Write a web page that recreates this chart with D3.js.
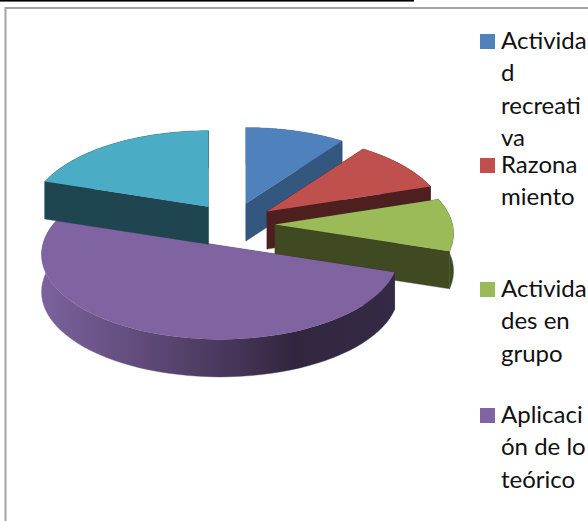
<!DOCTYPE html>
<html><head><meta charset="utf-8">
<script src="https://cdn.jsdelivr.net/npm/d3@7/dist/d3.min.js"></script>
<style>html,body{margin:0;padding:0;background:#fff;overflow:hidden}svg{display:block}</style>
</head><body><div id="chart"></div>
<script>
// The fifth (teal) slice has no legend entry in the reference, so it has no label here either.
const values = [10,10,10,50,20];
const topColors = ["#4f81bd","#c0504d","#9bbb59","#8064a2","#4bacc6"];
const sideColors = ["#34577f","#4e1f1f","#3f4a22","url(#purpleSide)","#1e4550"];
const legendLines = [["Activida","d","recreati","va"],["Razona","miento"],["Activida","des en","grupo"],["Aplicaci","ón de lo","teórico"]];

const W=588,H=521;
const ox=233,oy=224.5,exX=42,exY=22,rx=177.5,ry=84,persp=0.106,depth=37.5;
const svg=d3.select("#chart").append("svg").attr("width",W).attr("height",H);
const grad=svg.append("defs").append("linearGradient").attr("id","purpleSide")
  .attr("gradientUnits","userSpaceOnUse").attr("x1",39).attr("x2",393).attr("y1",0).attr("y2",0);
[[0,"#7b639f"],[0.3,"#5f4a78"],[0.55,"#463558"],[0.72,"#32263f"],[1,"#352a45"]].forEach(s=>
  grad.append("stop").attr("offset",s[0]).attr("stop-color",s[1]));

svg.append("rect").attr("x",0).attr("y",0).attr("width",414).attr("height",1.6).attr("fill","#000");
svg.append("path").attr("d",`M5.5,${H} V8 H${W}`).attr("fill","none").attr("stroke","#a3a3a3").attr("stroke-width",2);

const arcs=d3.pie().sort(null).value(d=>d)(values);
const line=d3.line();
function project(a,r,apex){
  const u=Math.sin(a)*r,v=Math.cos(a)*r,s=1/(1+persp*v);
  return [apex[0]+u*rx*s,apex[1]-v*ry*s];
}
const down=p=>[p[0],p[1]+depth];
arcs.forEach((d,i)=>{
  const mid=(d.startAngle+d.endAngle)/2;
  const apex=[ox+Math.sin(mid)*exX,oy-Math.cos(mid)*exY];
  const rim=d3.range(0,61).map(k=>project(d.startAngle+(d.endAngle-d.startAngle)*k/60,1,apex));
  const g=svg.append("g");
  const side=sideColors[i];
  const quad=pts=>g.append("path").attr("d",line(pts)+"Z").attr("fill",side).attr("stroke",side).attr("stroke-width",0.4);
  quad([apex,rim[0],down(rim[0]),down(apex)]);
  quad([apex,rim[60],down(rim[60]),down(apex)]);
  quad(rim.concat(rim.slice().reverse().map(down)));
  g.append("path").attr("d",line([apex].concat(rim))+"Z").attr("fill",topColors[i]);
});

const blockTops=[49,173,297,423],lineGap=32.4;
legendLines.forEach((lines,i)=>{
  svg.append("rect").attr("x",480).attr("y",blockTops[i]-15).attr("width",15).attr("height",15).attr("fill",topColors[i]);
  lines.forEach((t,j)=>svg.append("text").attr("x",501).attr("y",blockTops[i]+j*lineGap)
    .attr("font-family","Lato, 'Open Sans', sans-serif").attr("font-size",24).attr("fill","#111").text(t));
});
</script></body></html>
